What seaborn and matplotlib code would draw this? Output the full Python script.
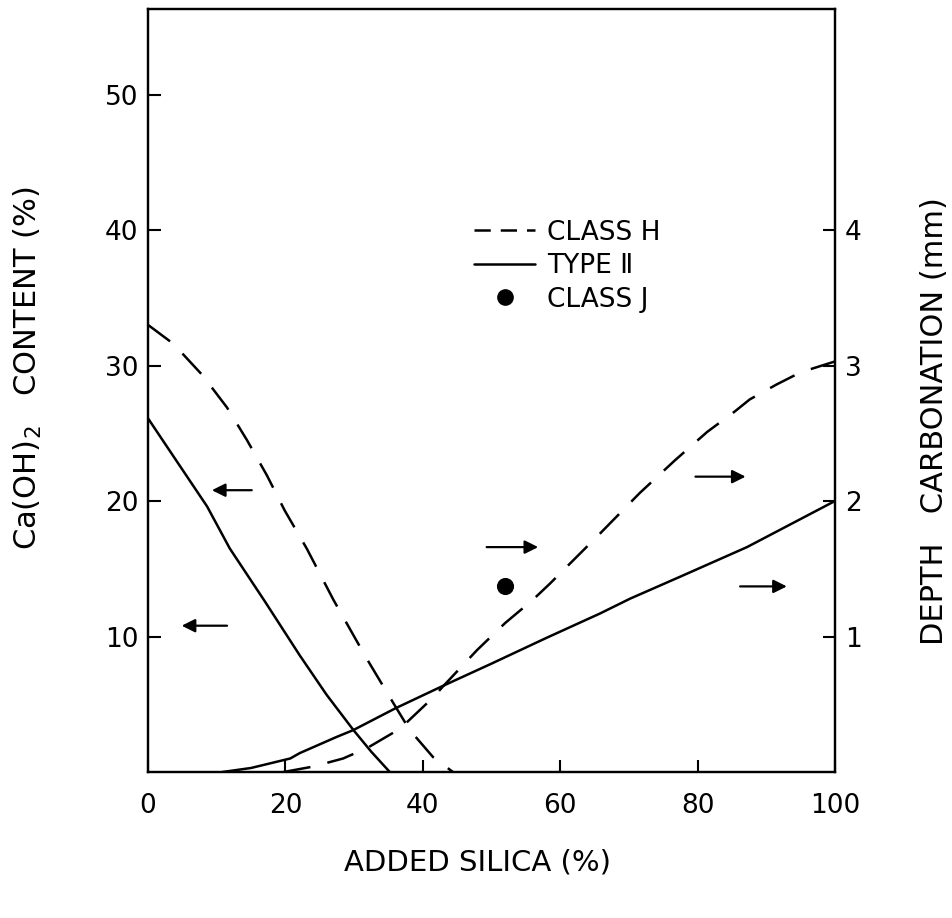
import matplotlib
matplotlib.use("Agg")
import matplotlib.pyplot as plt
import seaborn as sns
from matplotlib.lines import Line2D

# Ca(OH)2 content (%) vs added silica (%), left axis
classh_caoh_x = [0, 3.7, 7.9, 11.5, 14.4, 17.3, 19.9, 23.1, 27.0, 31.8, 35.7, 38.1, 41.5, 44.4]
classh_caoh_y = [33.0, 31.6, 29.3, 26.9, 24.5, 21.9, 19.3, 16.5, 12.7, 8.4, 5.1, 3.1, 1.1, 0.0]
type2_caoh_x = [0, 3.7, 8.6, 11.9, 17.0, 22.1, 26.0, 29.9, 32.5, 35.2]
type2_caoh_y = [26.1, 23.3, 19.6, 16.5, 12.6, 8.6, 5.7, 3.1, 1.5, 0.0]

# depth of carbonation (mm) vs added silica (%), right axis
type2_carb_x = [10.8, 15.0, 20.7, 22.1, 27.5, 29.9, 36.0, 42.9, 50.0, 58.0, 65.8, 70.2, 77.4, 87.2, 100]
type2_carb_y = [0.0, 0.03, 0.10, 0.14, 0.26, 0.31, 0.47, 0.635, 0.80, 0.99, 1.17, 1.28, 1.44, 1.66, 2.0]
classh_carb_x = [19.7, 24.0, 28.4, 32.0, 36.7, 41.5, 43.0, 47.9, 52.0, 56.0, 58.5, 65.8, 71.6, 76.7,
                 81.4, 85.4, 87.6, 91.5, 95.0, 100]
classh_carb_y = [0.0, 0.04, 0.10, 0.18, 0.32, 0.55, 0.635, 0.90, 1.10, 1.27, 1.39, 1.76, 2.06, 2.30,
                 2.51, 2.66, 2.75, 2.86, 2.95, 3.03]
classj_x = [52.0]
classj_y = [1.37]

legend_labels = ["CLASS H", "TYPE \u2161", "CLASS J"]

sns.set_style("ticks")
plt.rcParams["font.family"] = ["DejaVu Sans"]
plt.rcParams["text.color"] = "black"
plt.rcParams["axes.labelcolor"] = "black"
plt.rcParams["xtick.color"] = "black"
plt.rcParams["ytick.color"] = "black"

fig = plt.figure(figsize=(9.52, 9.18), dpi=100)
ax = fig.add_axes([0.1555, 0.159, 0.7215, 0.831])
ax2 = ax.twinx()

lw = 1.8
dash = (0, (11, 7))
sns.lineplot(x=classh_caoh_x, y=classh_caoh_y, ax=ax, color="black", lw=lw, sort=False, estimator=None)
ax.lines[-1].set_linestyle(dash)
sns.lineplot(x=type2_caoh_x, y=type2_caoh_y, ax=ax, color="black", lw=lw, sort=False, estimator=None)

sns.lineplot(x=classh_carb_x, y=classh_carb_y, ax=ax2, color="black", lw=lw, sort=False, estimator=None)
ax2.lines[-1].set_linestyle(dash)
sns.lineplot(x=type2_carb_x, y=type2_carb_y, ax=ax2, color="black", lw=lw, sort=False, estimator=None)
sns.scatterplot(x=classj_x, y=classj_y, ax=ax2, color="black", s=130, edgecolor="black", zorder=5)

# arrows pointing to the axis each curve belongs to
arrows = [((15.1, 20.8), (9.3, 20.8)), ((11.5, 10.8), (4.9, 10.8)),
          ((49.3, 16.6), (56.8, 16.6)), ((79.7, 21.8), (87.0, 21.8)), ((86.2, 13.7), (93.0, 13.7))]
for tail, head in arrows:
    ax.annotate("", xy=head, xytext=tail,
                arrowprops=dict(arrowstyle="-|>", color="black", lw=1.6, mutation_scale=20,
                                shrinkA=0, shrinkB=0))

ax.set_xlim(0, 100)
ax.set_ylim(0, 56.3)
ax2.set_ylim(0, 5.63)
ax.set_xticks([0, 20, 40, 60, 80, 100])
ax.set_yticks([10, 20, 30, 40, 50])
ax2.set_yticks([1, 2, 3, 4])

for a in (ax, ax2):
    for s in a.spines.values():
        s.set_visible(True)
        s.set_linewidth(1.6)
        s.set_color("black")
ax.tick_params(axis="x", direction="in", length=9, width=1.5, pad=15, labelsize=19)
ax.tick_params(axis="y", direction="in", length=9, width=1.5, pad=7, labelsize=19)
ax2.tick_params(axis="y", direction="in", length=9, width=1.5, pad=7, labelsize=19)

ax.set_xlabel("ADDED SILICA (%)", fontsize=21)
ax.xaxis.set_label_coords(0.48, -0.1)
ax.set_ylabel("Ca(OH)$_2$   CONTENT (%)", fontsize=22)
ax.yaxis.set_label_coords(-0.152, 0.53)
ax2.set_ylabel("DEPTH   CARBONATION (mm)", fontsize=22, rotation=90)
ax2.yaxis.set_label_coords(1.124, 0.46)

handles = [Line2D([], [], color="black", lw=lw, dashes=[6.5, 4]),
           Line2D([], [], color="black", lw=lw),
           Line2D([], [], color="black", lw=0, marker="o", markersize=11)]
leg = ax.legend(handles, legend_labels, loc="upper left", bbox_to_anchor=(0.475, 0.724),
                frameon=False, fontsize=19, handlelength=2.3, handletextpad=0.45,
                labelspacing=0.28, borderpad=0, borderaxespad=0)

fig.savefig("out.png", dpi=100)
